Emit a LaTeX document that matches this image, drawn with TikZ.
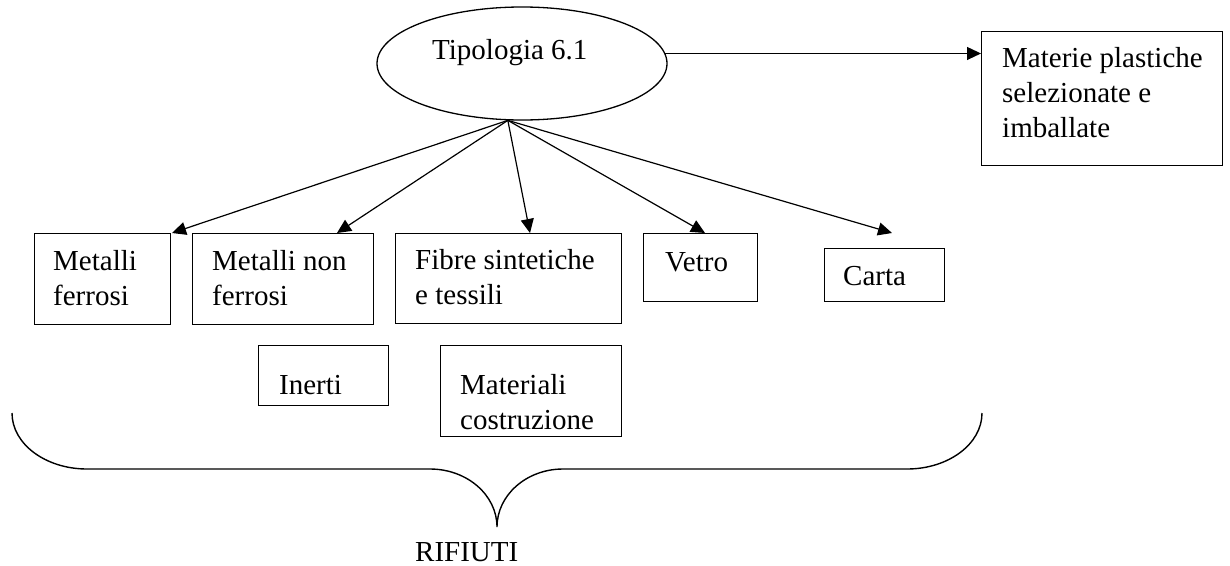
\documentclass[tikz,border=0pt]{standalone}
\usepackage{fontspec}
\setmainfont{Liberation Serif}
\usetikzlibrary{shapes.geometric,arrows.meta}
\newcommand{\boxfont}{\fontsize{29}{35}\selectfont}
\begin{document}
\begin{tikzpicture}[x=1pt,y=-1pt,
  stepbox/.style={draw, line width=1.4pt, inner sep=0pt, anchor=north west},
  lbl/.style={anchor=north west, inner sep=0pt, align=left, font=\boxfont},
  arr/.style={-{Triangle[length=14pt,width=13pt]}, line width=1.2pt},
  brace/.style={line width=1.4pt}]
\fill[white] (0,0) rectangle (1230,565);
\useasboundingbox (0,0) rectangle (1230,565);

% central ellipse
\node[draw, ellipse, line width=1.3pt, inner sep=0pt,
      minimum width=290pt, minimum height=113pt] (tip) at (522,63.5) {};
\node[lbl] (tipT) at (432,34.5) {\strut Tipologia 6.1};

% output box on the right
\node[stepbox, minimum width=241pt, minimum height=134pt] (materie) at (981,31) {};
\node[lbl] (materieT) at (1002,42.5) {\strut Materie plastiche\\selezionate e\\imballate};

% material boxes
\node[stepbox, minimum width=136pt, minimum height=91pt] (ferrosi) at (34,233) {};
\node[lbl] (ferrosiT) at (53,245.5) {\strut Metalli\\ferrosi};

\node[stepbox, minimum width=181pt, minimum height=91pt] (nonferrosi) at (192,233) {};
\node[lbl] (nonferrosiT) at (212,245.5) {\strut Metalli non\\ferrosi};

\node[stepbox, minimum width=226pt, minimum height=90pt] (fibre) at (395,233) {};
\node[lbl] (fibreT) at (415,244.5) {\strut Fibre sintetiche\\e tessili};

\node[stepbox, minimum width=114pt, minimum height=68pt] (vetro) at (643,233) {};
\node[lbl] (vetroT) at (665,246.5) {\strut Vetro};

\node[stepbox, minimum width=120pt, minimum height=53pt] (carta) at (824,248) {};
\node[lbl] (cartaT) at (843,260.5) {\strut Carta};

\node[stepbox, minimum width=130pt, minimum height=60pt] (inerti) at (258,345) {};
\node[lbl] (inertiT) at (279,369.5) {\strut Inerti};

\node[stepbox, minimum width=181pt, minimum height=91pt] (materiali) at (440,345) {};
\node[lbl] (materialiT) at (460,369.5) {\strut Materiali\\costruzione};

% arrow end points on the boxes
\coordinate (aF) at (172,233);
\coordinate (aN) at (337,233);
\coordinate (aB) at (530,233);
\coordinate (aV) at (705,233);
\coordinate (aC) at (892,233);

% connectors
\draw[arr] (tip.4.6) -- (tip.4.6 -| materie.west);
\draw[arr] (tip.256) -- (aF);
\draw[arr] (tip.256) -- (aN);
\draw[arr] (tip.256) -- (aB);
\draw[arr] (tip.256) -- (aV);
\draw[arr] (tip.256) -- (aC);

% grouping brace
\draw[brace] (12,413) .. controls (12,444) and (45.6,469) .. (87,469)
  -- (430,469) .. controls (467,469) and (497,495) .. (497,527)
  .. controls (497,495) and (526.6,469) .. (563,469)
  -- (907,469) .. controls (948.4,469) and (982,444) .. (982,413);
\node[anchor=base west, inner sep=0pt, font=\boxfont] (rifiuti) at (415,561) {RIFIUTI};
\end{tikzpicture}
\end{document}
